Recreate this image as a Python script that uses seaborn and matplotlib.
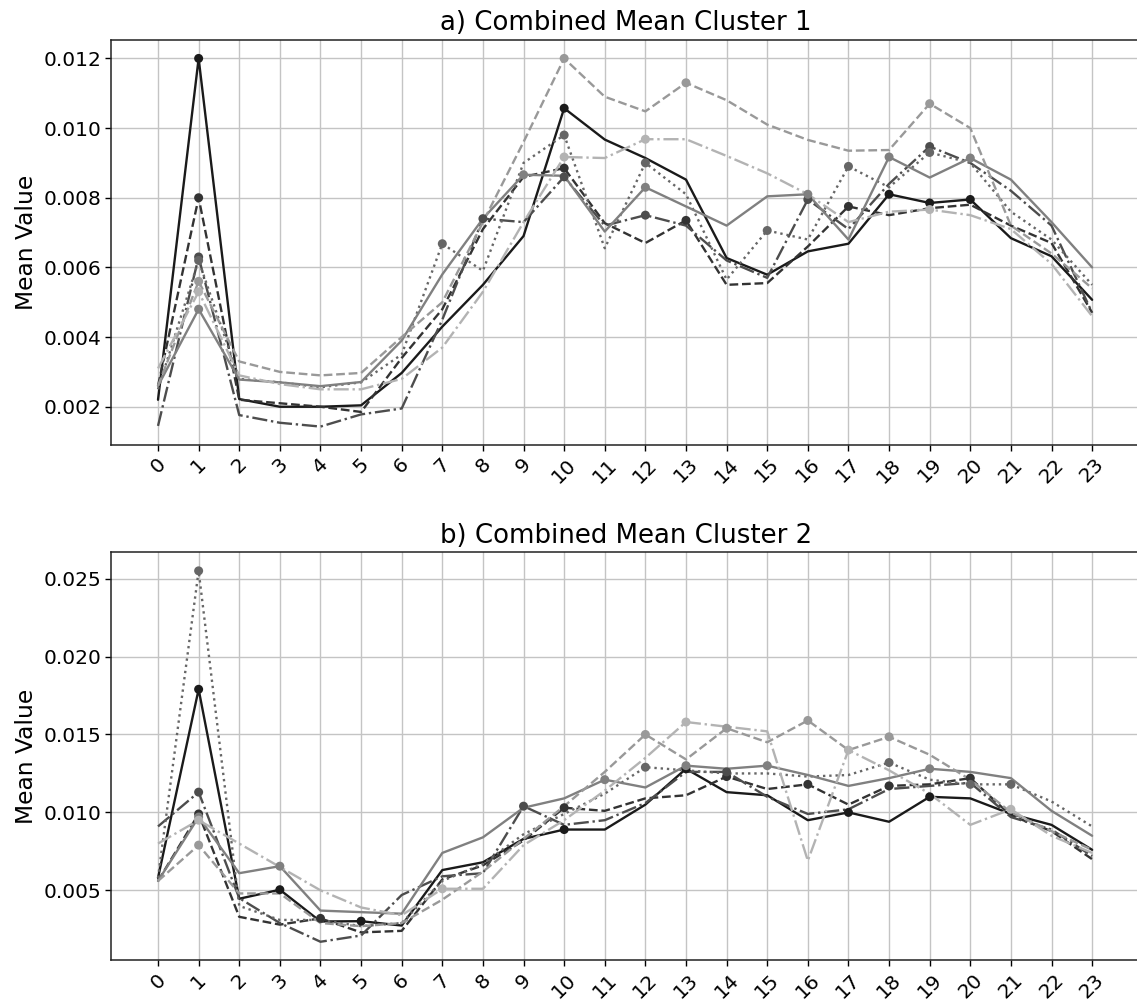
import matplotlib
matplotlib.use("Agg")
import matplotlib.pyplot as plt
import pandas as pd
import seaborn as sns

hours = list(range(24))
series_names = ["S1", "S2", "S3", "S4", "S5", "S6", "S7"]

# ---- Cluster 1: hourly mean values per series ----
c1_s1 = [0.0022, 0.0120, 0.00222, 0.0020, 0.0020, 0.00204, 0.00297, 0.0043, 0.0055, 0.0069, 0.01057, 0.00967,
         0.00914, 0.00852, 0.00627, 0.00579, 0.00646, 0.00668, 0.0081, 0.00785, 0.00795, 0.00684, 0.00632, 0.00507]
c1_s2 = [0.0026, 0.0080, 0.0022, 0.0021, 0.0020, 0.00185, 0.0034, 0.0048, 0.0071, 0.0086, 0.00885, 0.00727,
         0.0067, 0.00735, 0.0055, 0.00555, 0.0066, 0.00775, 0.0075, 0.0077, 0.0078, 0.0072, 0.0067, 0.0047]
c1_s3 = [0.00145, 0.0063, 0.00176, 0.00154, 0.00143, 0.00178, 0.00195, 0.0045, 0.0074, 0.0073, 0.0086, 0.0072,
         0.0075, 0.0072, 0.0062, 0.0057, 0.00795, 0.0071, 0.0084, 0.00947, 0.0090, 0.0082, 0.0072, 0.0047]
c1_s4 = [0.0025, 0.0062, 0.0028, 0.0027, 0.00256, 0.0027, 0.0035, 0.00668, 0.0059, 0.0090, 0.0098, 0.00655,
         0.0090, 0.0081, 0.00565, 0.00706, 0.0068, 0.0089, 0.0083, 0.0093, 0.0090, 0.0076, 0.0068, 0.0055]
c1_s5 = [0.0026, 0.0048, 0.00278, 0.0027, 0.00259, 0.00271, 0.0039, 0.0058, 0.0074, 0.00866, 0.00863, 0.00703,
         0.0083, 0.00775, 0.0072, 0.00804, 0.0081, 0.0068, 0.00917, 0.00858, 0.00914, 0.00852, 0.0073, 0.0060]
c1_s6 = [0.0026, 0.0056, 0.0033, 0.0030, 0.0029, 0.00297, 0.0040, 0.0050, 0.0073, 0.0096, 0.0120, 0.0109,
         0.01048, 0.0113, 0.0108, 0.0101, 0.00966, 0.00935, 0.00937, 0.0107, 0.0100, 0.0072, 0.0064, 0.0054]
c1_s7 = [0.0031, 0.0053, 0.0029, 0.00265, 0.0025, 0.0025, 0.0028, 0.0037, 0.0053, 0.0073, 0.00917, 0.00914,
         0.00968, 0.00968, 0.0092, 0.0087, 0.0081, 0.0073, 0.0076, 0.00766, 0.0075, 0.0071, 0.0061, 0.0046]

# highlighted hours per series (cluster 1)
c1_marks = [
    [1, 10, 18, 19, 20],
    [1, 10, 13, 17],
    [1, 8, 10, 12, 16, 19],
    [1, 7, 10, 12, 15, 17, 19],
    [1, 9, 12, 16, 18, 20],
    [1, 10, 13, 19],
    [1, 10, 12, 19],
]

# ---- Cluster 2: hourly mean values per series ----
c2_s1 = [0.0058, 0.0179, 0.00446, 0.00504, 0.0030, 0.00302, 0.00274, 0.0063, 0.0068, 0.0083, 0.0089, 0.0089,
         0.0105, 0.0128, 0.0113, 0.0111, 0.0095, 0.0100, 0.0094, 0.0110, 0.0109, 0.0099, 0.0092, 0.0076]
c2_s2 = [0.0056, 0.0099, 0.0033, 0.0028, 0.0032, 0.0023, 0.0024, 0.0057, 0.0066, 0.0082, 0.0103, 0.0101,
         0.0109, 0.0111, 0.0123, 0.0115, 0.0118, 0.0105, 0.0117, 0.0118, 0.0122, 0.0098, 0.0088, 0.0070]
c2_s3 = [0.0091, 0.0113, 0.0045, 0.0029, 0.0017, 0.0021, 0.0047, 0.0059, 0.0061, 0.0104, 0.0092, 0.0095,
         0.0106, 0.0126, 0.0126, 0.0110, 0.0099, 0.0102, 0.0115, 0.0117, 0.0119, 0.0097, 0.0089, 0.0072]
c2_s4 = [0.0058, 0.0255, 0.0040, 0.0031, 0.0031, 0.0027, 0.0029, 0.0056, 0.0067, 0.0086, 0.0099, 0.0112,
         0.0129, 0.0127, 0.0125, 0.0125, 0.0123, 0.0124, 0.0132, 0.0121, 0.0118, 0.0118, 0.0107, 0.0091]
c2_s5 = [0.0056, 0.0097, 0.0061, 0.00655, 0.0037, 0.0036, 0.0035, 0.0074, 0.0084, 0.0103, 0.0109, 0.0121,
         0.0116, 0.0130, 0.0128, 0.0130, 0.0124, 0.0117, 0.0122, 0.0128, 0.0126, 0.0122, 0.0101, 0.0085]
c2_s6 = [0.0056, 0.0079, 0.0048, 0.0048, 0.0029, 0.0027, 0.0029, 0.0044, 0.0062, 0.0083, 0.0104, 0.0126,
         0.0150, 0.0134, 0.0154, 0.0145, 0.0159, 0.0140, 0.01485, 0.0137, 0.0121, 0.0100, 0.0088, 0.0076]
c2_s7 = [0.0080, 0.0095, 0.0080, 0.0065, 0.0050, 0.0039, 0.0034, 0.0051, 0.0051, 0.0079, 0.0095, 0.0114,
         0.0135, 0.0158, 0.0155, 0.0152, 0.0069, 0.0140, 0.0127, 0.0112, 0.0092, 0.0102, 0.0085, 0.0074]

# highlighted hours per series (cluster 2)
c2_marks = [
    [1, 3, 5, 10, 13, 17, 19],
    [1, 4, 10, 14, 16, 18, 20],
    [1, 9, 14],
    [1, 12, 18, 20, 21],
    [1, 3, 11, 13, 15, 19],
    [1, 12, 14, 16, 18],
    [1, 7, 13, 17, 21],
]

titles = ["a) Combined Mean Cluster 1", "b) Combined Mean Cluster 2"]

grey_shades = ["#1a1a1a", "#333333", "#4d4d4d", "#666666", "#808080", "#999999", "#b3b3b3"]
palette = dict(zip(series_names, grey_shades))
dash_dot = (6.4, 1.6, 1.0, 1.6)
dashes = dict(zip(series_names, ["", (3.7, 1.6), dash_dot, (1.0, 1.65), "", (3.7, 1.6), dash_dot]))


def long_frame(values):
    rows = []
    for name, vals in zip(series_names, values):
        for h, v in zip(hours, vals):
            rows.append({"hour": h, "value": v, "series": name})
    return pd.DataFrame(rows)


def mark_frame(values, marks):
    rows = []
    for name, vals, hrs in zip(series_names, values, marks):
        for h in hrs:
            rows.append({"hour": h, "value": vals[h], "series": name})
    return pd.DataFrame(rows)


sns.set_theme(style="ticks")
plt.rcParams["font.family"] = ["DejaVu Sans"]
plt.rcParams["text.color"] = "black"
plt.rcParams["axes.labelcolor"] = "black"
plt.rcParams["xtick.color"] = "black"
plt.rcParams["ytick.color"] = "black"

fig = plt.figure(figsize=(11.37, 10.0), dpi=100)
ax_top = fig.add_axes([0.0979, 0.555, 0.9055, 0.405])
ax_bot = fig.add_axes([0.0979, 0.0397, 0.9055, 0.408])

panels = [
    (ax_top, [c1_s1, c1_s2, c1_s3, c1_s4, c1_s5, c1_s6, c1_s7], c1_marks, titles[0]),
    (ax_bot, [c2_s1, c2_s2, c2_s3, c2_s4, c2_s5, c2_s6, c2_s7], c2_marks, titles[1]),
]

for ax, values, marks, title in panels:
    ax.grid(True, color="#c4c4c4", linewidth=1.0, zorder=0)
    ax.set_axisbelow(True)
    sns.lineplot(data=long_frame(values), x="hour", y="value", hue="series", style="series",
                 palette=palette, dashes=dashes, linewidth=1.7, legend=False,
                 estimator=None, sort=False, ax=ax)
    sns.scatterplot(data=mark_frame(values, marks), x="hour", y="value", hue="series",
                    palette=palette, s=42, linewidth=0, legend=False, ax=ax, zorder=4)
    ax.set_xlim(-1.15, 24.2)
    ax.set_xticks(hours)
    ax.set_xticklabels([str(h) for h in hours], rotation=45, fontsize=14.5)
    ax.tick_params(axis="y", labelsize=14.5)
    ax.tick_params(axis="both", length=4, width=1.0, pad=3)
    ax.set_xlabel("")
    ax.set_ylabel("Mean Value", fontsize=16.8)
    ax.set_title(title, fontsize=18.7, pad=7)
    for sp in ax.spines.values():
        sp.set_color("#222222")
        sp.set_linewidth(1.1)

fig.savefig("out.png", dpi=100)
